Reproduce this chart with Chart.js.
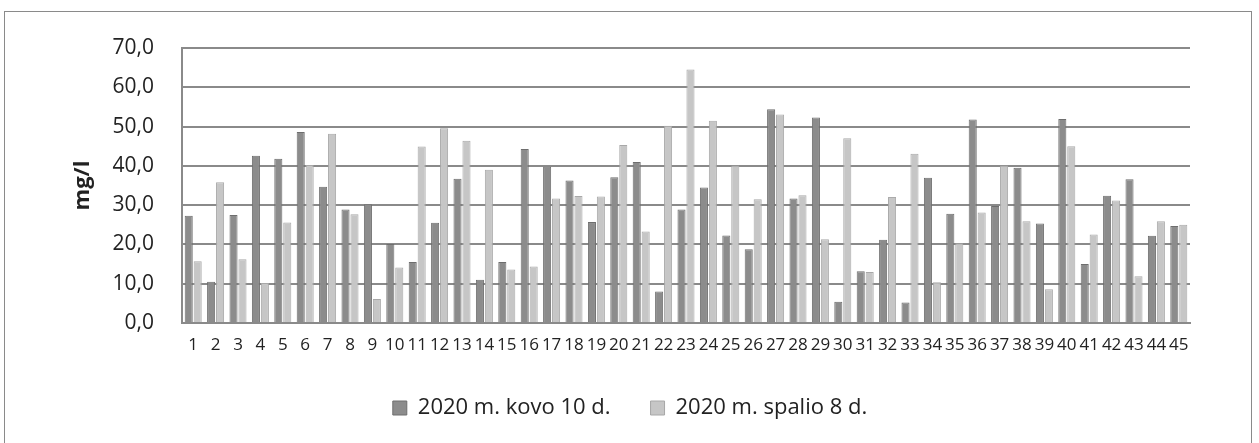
<!DOCTYPE html>
<html>
<head>
<meta charset="utf-8">
<script src="https://cdn.jsdelivr.net/npm/chart.js@4.4.1/dist/chart.umd.min.js"></script>
<style>
    html, body { margin: 0; padding: 0; background: #fff; }
    #frame { position: absolute; left: 4px; top: 11px; width: 1246px; height: 440px; border: 1.5px solid #8a8a8a; }
    #wrap { position: absolute; left: 0; top: 0; width: 1259px; height: 443px; }
</style>
</head>
<body>
<div id="frame"></div>
<div id="wrap"><canvas id="chart" width="1259" height="443"></canvas></div>
<script>
// Mėginių numeriai
const labels = [];
for (let i = 1; i <= 45; i++) labels.push(String(i));

// 2020 m. kovo 10 d.
const kovo = [27.3, 10.5, 27.5, 42.6, 41.8, 48.6, 34.7, 28.9, 30.2, 20.1,
              15.5, 25.5, 36.7, 11.0, 15.5, 44.3, 39.8, 36.3, 25.7, 37.1,
              41.0, 8.0, 28.9, 34.5, 22.3, 18.8, 54.4, 31.7, 52.3, 5.4,
              13.2, 21.2, 5.2, 37.0, 27.8, 51.8, 29.8, 39.5, 25.3, 51.9,
              15.0, 32.4, 36.6, 22.2, 24.7];

// 2020 m. spalio 8 d.
const spalio = [15.7, 35.8, 16.2, 10.2, 25.6, 40.2, 48.2, 27.7, 6.1, 14.1,
                44.9, 49.6, 46.4, 39.0, 13.6, 14.4, 31.7, 32.3, 32.2, 45.3,
                23.3, 50.2, 64.5, 51.5, 40.1, 31.5, 53.1, 32.5, 21.3, 47.0,
                13.0, 32.1, 43.1, 10.4, 20.3, 28.1, 40.1, 25.9, 8.6, 45.0,
                22.5, 31.2, 11.9, 25.9, 25.0];

const fontFamily = "'Open Sans', sans-serif";

// legenda: platesni tarpai tarp elementų, bet fiksuotas aukštis
const legendHeight = {
    id: "legendHeight",
    beforeInit(chart) {
        const fitOrig = chart.legend.fit;
        chart.legend.fit = function() {
            fitOrig.bind(chart.legend)();
            this.height = 86;
        };
    }
};

const ctx = document.getElementById("chart").getContext("2d");
new Chart(ctx, {
    type: "bar",
    data: {
        labels: labels,
        datasets: [
            {
                label: "2020 m. kovo 10 d.",
                data: kovo,
                backgroundColor: "#8c8c8c",
                borderColor: "#6e6e6e",
                borderWidth: 1
            },
            {
                label: "2020 m. spalio 8 d.",
                data: spalio,
                backgroundColor: "#c6c6c6",
                borderColor: "#a8a8a8",
                borderWidth: 1
            }
        ]
    },
    options: {
        responsive: false,
        animation: false,
        layout: { padding: { left: 70, right: 69, top: 48, bottom: 0 } },
        plugins: {
            legend: {
                position: "bottom",
                labels: {
                    font: { family: fontFamily, size: 22 },
                    color: "#222",
                    boxWidth: 14,
                    boxHeight: 14,
                    padding: 40,
                    useBorderRadius: false
                }
            },
            tooltip: { enabled: false }
        },
        scales: {
            x: {
                grid: { display: false },
                border: { color: "#8a8a8a", width: 2 },
                ticks: {
                    font: { family: fontFamily, size: 17 },
                    color: "#222",
                    autoSkip: false,
                    maxRotation: 0,
                    padding: 4
                },
                categoryPercentage: 0.82,
                barPercentage: 0.9,
                afterFit: function(scale) { scale.height = 34; }
            },
            y: {
                min: 0,
                max: 70,
                ticks: {
                    stepSize: 10,
                    font: { family: fontFamily, size: 21 },
                    color: "#222",
                    padding: 28,
                    callback: v => v.toFixed(1).replace(".", ",")
                },
                grid: { color: "#8a8a8a", lineWidth: 2, drawTicks: false },
                border: { color: "#8a8a8a", width: 2 },
                title: {
                    display: true,
                    text: "mg/l",
                    font: { family: fontFamily, size: 22, weight: "bold" },
                    color: "#222",
                    padding: 0
                },
                afterFit: function(scale) { scale.width = 112; }
            }
        }
    },
    plugins: [legendHeight]
});
</script>
</body>
</html>
